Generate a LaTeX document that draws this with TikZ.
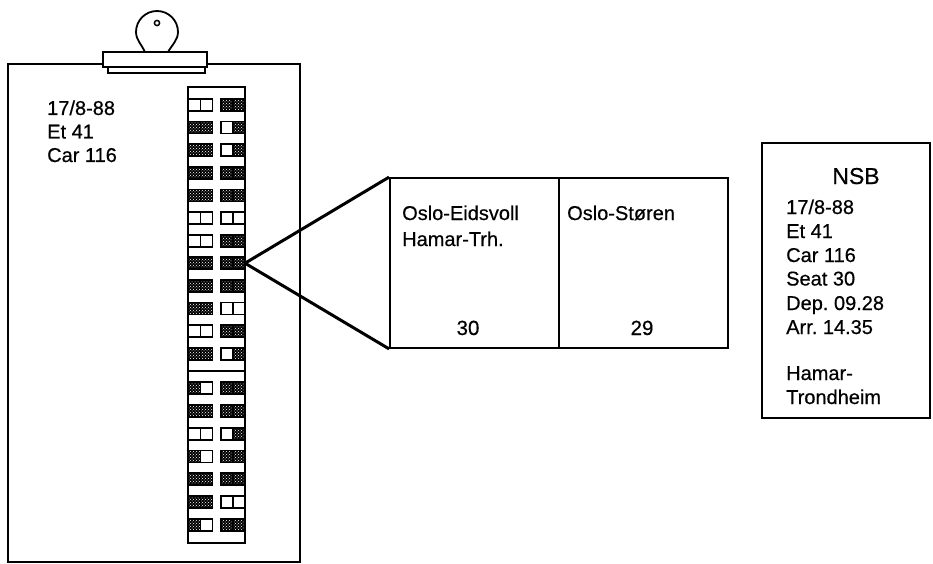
\documentclass[tikz,border=0pt]{standalone}
\usepackage{fontspec}
\setmainfont{Liberation Sans}
\newfontfamily\labfont[FakeBold=0.5]{Liberation Sans}
\usetikzlibrary{patterns}
\begin{document}
\begin{tikzpicture}[x=1pt,y=-1pt,line join=miter,
  board/.style={line width=1.8pt},
  occ/.style={fill=black,postaction={pattern=crosshatch dots,pattern color=white}},
  emp/.style={fill=white},
  pairframe/.style={draw,line width=1.8pt},
  txt/.style={font=\labfont\fontsize{20}{24}\selectfont,inner sep=0pt,anchor=base west},
  num/.style={font=\labfont\fontsize{20.5}{24}\selectfont,inner sep=0pt,anchor=base},
  box/.style={draw,line width=1.8pt,inner sep=0pt}]
\useasboundingbox (0,0) rectangle (933,564);
% clipboard board
\draw[board] (103,64) -- (8,64) -- (8,562) -- (300,562) -- (300,64) -- (207,64);
% clip handle
\draw[board,fill=white] (145,52) .. controls (142,45) and (136,40) .. (136,32)
  arc[start angle=180,end angle=360,radius=21]
  .. controls (178,40) and (172,45) .. (168,52);
\draw[line width=1.5pt] (157,23) circle[radius=2.6];
% clip bar
\draw[board,fill=white] (108,67) rectangle (205,73);
\draw[board,fill=white] (103,52) rectangle (207,67);
% clipboard text
\node[txt] (c1) at (47,115) {17/8-88};
\node[txt] (c2) at (47,138.5) {Et 41};
\node[txt] (c3) at (47,162) {Car 116};
% seat column
\draw[board] (188,87) rectangle (245,543);
\draw[board] (188,371) -- (245,371);
\foreach \y/\a/\b/\c/\d in {
  105/0/0/1/1, 127.6/1/1/0/1, 150.2/1/1/0/1, 172.8/1/1/1/1,
  195.4/1/1/1/1, 218/0/0/0/0, 240.6/0/0/1/1, 263.2/1/1/1/1,
  285.8/1/1/1/1, 308.4/1/1/0/0, 331/0/0/1/1, 353.6/1/1/0/1,
  388/1/0/1/1, 410.8/1/1/1/1, 433.6/0/0/0/1, 456.4/1/0/1/1,
  479.2/1/1/1/1, 502/1/1/0/0, 524.8/1/0/1/1}{
  \foreach \x/\o in {188/\a, 200.2/\b, 220.6/\c, 232.8/\d}{
    \ifnum\o=1
      \path[occ] (\x,\y-6) rectangle ++(12.2,12);
    \else
      \path[emp] (\x,\y-6) rectangle ++(12.2,12);
    \fi
    \draw[line width=1.4pt] (\x,\y-6) rectangle ++(12.2,12);
  }
  \draw[pairframe] (188,\y-6) rectangle (212.4,\y+6);
  \draw[pairframe] (220.6,\y-6) rectangle (245,\y+6);
}
\coordinate (apex) at (245,263.2);
% enlarged ticket
\node[box,minimum width=338pt,minimum height=170pt] (ticket) at (559,263) {};
\draw[line width=1.8pt] (ticket.north) -- (ticket.south);
\draw[line width=3pt] (apex) -- (ticket.north west);
\draw[line width=3pt] (apex) -- (ticket.south west);
\node[txt] (t1) at (402,220) {Oslo-Eidsvoll};
\node[txt] (t2) at (402,246) {Hamar-Trh.};
\node[num] (t3) at (468,335) {30};
\node[txt] (t4) at (567,220) {Oslo-Støren};
\node[num] (t5) at (642,335) {29};
% NSB ticket
\node[box,minimum width=168pt,minimum height=275pt] (nsb) at (846,280.5) {};
\node[font=\labfont\fontsize{23}{26}\selectfont,inner sep=0pt,anchor=base] (n0) at (856,184) {NSB};
\node[txt] (n1) at (786,214) {17/8-88};
\node[txt] (n2) at (786,238) {Et 41};
\node[txt] (n3) at (786,262) {Car 116};
\node[txt] (n4) at (786,285.5) {Seat 30};
\node[txt] (n5) at (786,310) {Dep.\ 09.28};
\node[txt] (n6) at (786,334) {Arr.\ 14.35};
\node[txt] (n7) at (786,380) {Hamar-};
\node[txt] (n8) at (786,404) {Trondheim};
\end{tikzpicture}
\end{document}
